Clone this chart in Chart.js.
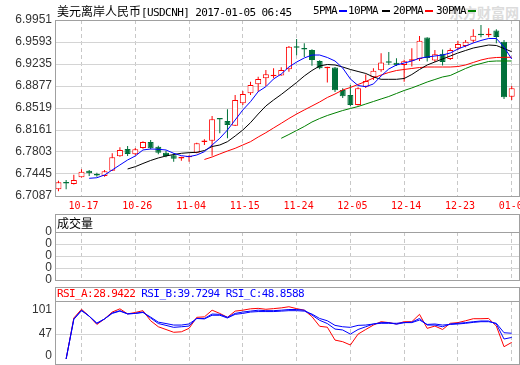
<!DOCTYPE html>
<html>
<head>
<meta charset="utf-8">
<script src="https://cdn.jsdelivr.net/npm/chart.js@4.4.0/dist/chart.umd.min.js"></script>
<style>
  body { margin: 0; background: #fff; }
  #wrap { position: relative; width: 520px; height: 365px; overflow: hidden; }
  canvas { position: absolute; left: 0; }
  .txt { position: absolute; white-space: pre; font: 11px "DejaVu Sans Mono", monospace; letter-spacing: -0.6px; line-height: 14px; color: #000; }
  .cn { font-family: "Noto Sans CJK SC", sans-serif; font-size: 12px; letter-spacing: 0; }
  .dash { position: absolute; top: 10px; width: 8px; height: 2px; }
  #wm { position: absolute; left: 449px; top: 2px; font: bold 14px "Noto Sans CJK SC", sans-serif; color: #dcdcdc; }
</style>
</head>
<body>
<div id="wrap">
  <div id="wm">东方财富网</div>
  <canvas id="main" width="520" height="214" style="top:0"></canvas>
  <canvas id="vol" width="520" height="70" style="top:214px"></canvas>
  <canvas id="rsi" width="520" height="81" style="top:284px"></canvas>

  <div class="txt" style="left:57px;top:4px"><span class="cn">美元离岸人民币</span>[USDCNH] 2017-01-05 06:45</div>
  <div class="txt" style="left:313px;top:4px">5PMA</div>
  <div class="dash" style="left:339px;background:#0000ff"></div>
  <div class="txt" style="left:348px;top:4px">10PMA</div>
  <div class="dash" style="left:382px;background:#000"></div>
  <div class="txt" style="left:393px;top:4px">20PMA</div>
  <div class="dash" style="left:425px;background:#ff0000"></div>
  <div class="txt" style="left:436px;top:4px">30PMA</div>
  <div class="dash" style="left:468px;background:#008000"></div>

  <div class="txt cn" style="left:57px;top:216px">成交量</div>
  <div class="txt" id="rsiHead" style="left:57px;top:287px"></div>
</div>

<script>
// ── data ────────────────────────────────────────────────────────
const priceTicks = [6.9951, 6.9593, 6.9235, 6.8877, 6.8519, 6.8161, 6.7803, 6.7445, 6.7087];
const dateIdx    = [3, 10, 17, 24, 31, 38, 45, 52, 59];
const dateLabels = ['10-17', '10-26', '11-04', '11-15', '11-24', '12-05', '12-14', '12-23', '01-05'];

const open = [
  6.7196, 6.7306, 6.7282, 6.7391, 6.7499, 6.7429, 6.7412, 6.7499, 6.7733, 6.7852,
  6.7766, 6.7868, 6.7966, 6.7889, 6.7792, 6.7749, 6.7697, 6.7717, 6.7792, 6.7966,
  6.7987, 6.8340, 6.8308, 6.8231, 6.8595, 6.8758, 6.8905, 6.9002, 6.9035, 6.9048,
  6.9149, 6.9507, 6.9479, 6.9463, 6.9284, 6.9165, 6.9178, 6.8812, 6.8731, 6.8568,
  6.8866, 6.9018, 6.9132, 6.9263, 6.9255, 6.9219, 6.9287, 6.9316, 6.9666, 6.9292,
  6.9401, 6.9316, 6.9491, 6.9528, 6.9614, 6.9712, 6.9702, 6.9780, 6.9598, 6.8703];
const high = [
  6.7336, 6.7347, 6.7434, 6.7521, 6.7510, 6.7466, 6.7510, 6.7782, 6.7879, 6.7900,
  6.7868, 6.7977, 6.7998, 6.7906, 6.7825, 6.7782, 6.7727, 6.7749, 6.7954, 6.8009,
  6.8389, 6.8352, 6.8498, 6.8731, 6.8796, 6.8947, 6.9028, 6.9137, 6.9165, 6.9181,
  6.9528, 6.9642, 6.9572, 6.9474, 6.9295, 6.9191, 6.9186, 6.8840, 6.8893, 6.8856,
  6.9064, 6.9165, 6.9409, 6.9430, 6.9328, 6.9305, 6.9491, 6.9691, 6.9669, 6.9463,
  6.9471, 6.9491, 6.9614, 6.9626, 6.9800, 6.9870, 6.9816, 6.9800, 6.9626, 6.8877];
const low = [
  6.7164, 6.7196, 6.7274, 6.7388, 6.7412, 6.7401, 6.7401, 6.7494, 6.7727, 6.7738,
  6.7749, 6.7857, 6.7847, 6.7766, 6.7717, 6.7645, 6.7662, 6.7645, 6.7782, 6.7917,
  6.7743, 6.8107, 6.8026, 6.8226, 6.8568, 6.8731, 6.8785, 6.8877, 6.9002, 6.9045,
  6.9110, 6.9377, 6.9349, 6.9207, 6.9149, 6.8934, 6.8780, 6.8682, 6.8551, 6.8560,
  6.8845, 6.8975, 6.9110, 6.9219, 6.9203, 6.8947, 6.9194, 6.9284, 6.9276, 6.9268,
  6.9211, 6.9300, 6.9463, 6.9507, 6.9581, 6.9670, 6.9670, 6.9572, 6.8665, 6.8649];
const close = [
  6.7310, 6.7290, 6.7347, 6.7482, 6.7456, 6.7421, 6.7489, 6.7717, 6.7836, 6.7771,
  6.7847, 6.7966, 6.7863, 6.7792, 6.7738, 6.7694, 6.7706, 6.7738, 6.7944, 6.7974,
  6.8335, 6.8332, 6.8243, 6.8649, 6.8747, 6.8893, 6.8991, 6.9067, 6.9040, 6.9137,
  6.9517, 6.9499, 6.9471, 6.9300, 6.9165, 6.9170, 6.8807, 6.8710, 6.8568, 6.8840,
  6.8958, 6.9126, 6.9260, 6.9255, 6.9214, 6.9279, 6.9292, 6.9614, 6.9333, 6.9393,
  6.9268, 6.9463, 6.9561, 6.9598, 6.9696, 6.9702, 6.9712, 6.9674, 6.8693, 6.8840];

// moving averages, each starts at its own candle index
const ma5Start = 4;
const ma5 = [
  6.7375, 6.7384, 6.7429, 6.7510, 6.7592, 6.7673, 6.7738, 6.7836, 6.7852, 6.7847,
  6.7836, 6.7782, 6.7743, 6.7727, 6.7754, 6.7808, 6.7917, 6.8026, 6.8161, 6.8324,
  6.8487, 6.8622, 6.8785, 6.8866, 6.8991, 6.9072, 6.9186, 6.9267, 6.9333, 6.9381,
  6.9381, 6.9341, 6.9284, 6.9170, 6.8991, 6.8885, 6.8866, 6.8910, 6.9040, 6.9154,
  6.9219, 6.9251, 6.9284, 6.9328, 6.9349, 6.9365, 6.9381, 6.9414, 6.9479, 6.9528,
  6.9577, 6.9618, 6.9650, 6.9650, 6.9512, 6.9316];
const ma10Start = 9;
const ma10 = [
  6.7527, 6.7564, 6.7616, 6.7665, 6.7706, 6.7738, 6.7762, 6.7782, 6.7792, 6.7798,
  6.7827, 6.7892, 6.7917, 6.7971, 6.8063, 6.8161, 6.8280, 6.8421, 6.8552, 6.8649,
  6.8739, 6.8836, 6.8934, 6.9040, 6.9129, 6.9203, 6.9227, 6.9219, 6.9186, 6.9146,
  6.9113, 6.9081, 6.9024, 6.8986, 6.8986, 6.8986, 6.8999, 6.9064, 6.9146, 6.9219,
  6.9268, 6.9317, 6.9365, 6.9414, 6.9455, 6.9495, 6.9520, 6.9544, 6.9536, 6.9487,
  6.9435];
const ma20Start = 19;
const ma20 = [
  6.7681, 6.7722, 6.7771, 6.7819, 6.7863, 6.7917, 6.7971, 6.8047, 6.8117, 6.8194,
  6.8270, 6.8348, 6.8421, 6.8487, 6.8552, 6.8617, 6.8690, 6.8747, 6.8812, 6.8853,
  6.8902, 6.8950, 6.9007, 6.9056, 6.9097, 6.9129, 6.9146, 6.9162, 6.9178, 6.9186,
  6.9186, 6.9186, 6.9186, 6.9194, 6.9219, 6.9260, 6.9300, 6.9328, 6.9341, 6.9344,
  6.9344];
const ma30Start = 29;
const ma30 = [
  6.8026, 6.8088, 6.8153, 6.8218, 6.8291, 6.8348, 6.8397, 6.8438, 6.8478, 6.8511,
  6.8543, 6.8584, 6.8625, 6.8666, 6.8706, 6.8755, 6.8804, 6.8845, 6.8893, 6.8942,
  6.8983, 6.9024, 6.9048, 6.9105, 6.9162, 6.9211, 6.9243, 6.9276, 6.9284, 6.9284,
  6.9284];

// volume panel is empty in the source
const volume = [];
const volTicks = [0, 1, 2, 3, 4];
const volTickLabels = ['0', '0', '0', '0', '0'];

// RSI, starting at candle 1
const rsiStart = 1;
const rsiTicks = [0, 47, 101];
const rsiA = [
  -7, 82, 101, 86, 68, 80, 95, 102, 91, 94,
  98, 76, 63, 57, 51, 52, 59.5, 83.5, 84.5, 99,
  92, 83.5, 97, 99, 102, 103, 101, 102.4, 104, 106.5,
  102.4, 99, 85, 64, 62, 34, 30.5, 23.3, 47, 57,
  66.7, 74, 72, 69, 74, 74, 90, 59.5, 64.5, 57,
  70.5, 72, 76, 80.5, 80.5, 81, 64.5, 19.6, 28.9422];
const rsiB = [
  -7, 80, 99, 86, 70, 80, 93, 98, 91, 92,
  95, 82, 70, 66, 61.7, 63, 64.5, 81, 81, 90.6,
  90, 83.5, 92, 95, 97, 99, 98, 98, 99, 100.5,
  100.5, 99, 88.5, 77, 70, 58, 56, 47, 57, 63,
  69, 72, 72, 68.5, 72, 73, 81, 66.7, 66.7, 63,
  69, 70.5, 72, 74, 75.5, 75.5, 69, 36.3, 39.7294];
const rsiC = [
  -7, 79, 98, 86, 71, 80, 92, 97, 91, 92,
  94, 84, 73, 70, 66.7, 66.7, 69, 81, 80, 88,
  88, 82, 90, 92, 95, 96, 96, 96, 97, 98,
  98, 97, 90.6, 81, 76, 66, 63, 61.7, 66, 66.7,
  69, 70.5, 70.5, 70.5, 72, 72, 77.6, 68, 69, 66.7,
  68, 69, 70.5, 72.5, 74, 74, 70.5, 50, 48.8588];

// ── styling helpers ─────────────────────────────────────────────
const RED = '#ff0000', GRN = '#00703a', FRAME = '#a0a0a0';
const tickFont = { family: "'Liberation Sans', Arial, sans-serif", size: 12 };
const isUp = i => close[i] >= open[i];
const isDoji = i => Math.abs(close[i] - open[i]) < 0.0012;
const series = (arr, start) => arr.map((v, k) => ({ x: k + start, y: v }));

const frame = {
  id: 'frame',
  afterDraw(chart, args, opts) {
    const { ctx, chartArea: a } = chart;
    const top = opts.boxTop != null ? opts.boxTop : a.top;
    ctx.save();
    ctx.strokeStyle = FRAME;
    ctx.lineWidth = 1;
    ctx.strokeRect(a.left + 0.5, top + 0.5, a.right - a.left, a.bottom - top);
    if (opts.boxTop != null) {
      ctx.beginPath();
      ctx.moveTo(a.left, a.top + 0.5);
      ctx.lineTo(a.right + 1, a.top + 0.5);
      ctx.stroke();
    }
    ctx.restore();
  }
};

const xAxis = showTicks => ({
  type: 'linear', min: -0.45, max: 59.95, offset: false,
  afterBuildTicks: s => { s.ticks = dateIdx.map(v => ({ value: v })); },
  afterFit: s => { s.height = showTicks ? 18 : 0; s.paddingLeft = 0; s.paddingRight = 0; },
  grid: { color: '#c8c8c8', drawTicks: false, offset: false },
  border: { display: false, dash: [4, 3] },
  ticks: {
    display: showTicks, autoSkip: false, maxRotation: 0, padding: 4, labelOffset: 2, color: RED,
    font: { family: "'DejaVu Sans Mono', monospace", size: 10 },
    callback: (v, i) => dateLabels[i],
  },
});

const yAxis = (min, max, ticks, label, gridColor) => ({
  min, max,
  afterBuildTicks: s => { s.ticks = ticks.map(v => ({ value: v })); },
  afterFit: s => { s.width = 55; s.paddingTop = 0; s.paddingBottom = 0; },
  grid: { color: gridColor, drawTicks: false },
  border: { display: false },
  ticks: { color: '#333', font: tickFont, padding: 3, autoSkip: false, callback: label },
});

const common = {
  responsive: false, animation: false, devicePixelRatio: 1, events: [],
};

// ── ① price panel: candles + moving averages ────────────────────
const idx = open.map((_, i) => i);
const maLine = (arr, start, color) => ({
  type: 'line', data: series(arr, start), borderColor: color, borderWidth: 1,
  pointRadius: 0, tension: 0, fill: false,
});

new Chart(document.getElementById('main'), {
  type: 'bar',
  data: {
    datasets: [
      maLine(ma5, ma5Start, '#0000ff'),
      maLine(ma10, ma10Start, '#000000'),
      maLine(ma20, ma20Start, RED),
      maLine(ma30, ma30Start, '#008000'),
      {
        // bodies
        data: idx.map(i => ({ x: i, y: [open[i], close[i]] })),
        backgroundColor: idx.map(i => isUp(i) ? (isDoji(i) ? RED : '#ffffff') : GRN),
        borderColor: idx.map(i => isUp(i) ? RED : GRN),
        borderWidth: 1, borderSkipped: false, barThickness: 6,
        minBarLength: 1.5, grouped: false, inflateAmount: 0,
      },
      {
        // wicks
        data: idx.map(i => ({ x: i, y: [low[i], high[i]] })),
        backgroundColor: idx.map(i => isUp(i) ? RED : GRN),
        borderWidth: 0, barThickness: 1, grouped: false, inflateAmount: 0,
      },
    ],
  },
  options: {
    ...common,
    layout: { padding: { top: 20, right: 1, left: 0, bottom: 0 } },
    scales: {
      x: xAxis(true),
      y: yAxis(priceTicks[priceTicks.length - 1], priceTicks[0], priceTicks, v => v.toFixed(4), '#d4d4d4'),
    },
    plugins: { legend: { display: false }, tooltip: { enabled: false }, frame: {} },
  },
  plugins: [frame],
});

// ── ② volume panel (no bars in the source) ──────────────────────
new Chart(document.getElementById('vol'), {
  type: 'bar',
  data: { datasets: [{ data: volume, backgroundColor: RED }] },
  options: {
    ...common,
    layout: { padding: { top: 18, right: 1, left: 0, bottom: 4 } },
    scales: {
      x: xAxis(false),
      y: yAxis(volTicks[0], volTicks[volTicks.length - 1], volTicks, (v, i) => volTickLabels[i], '#d4d4d4'),
    },
    plugins: { legend: { display: false }, tooltip: { enabled: false }, frame: { boxTop: 0 } },
  },
  plugins: [frame],
});

// ── ③ RSI panel ─────────────────────────────────────────────────
const rsiLine = (arr, color) => ({
  data: series(arr, rsiStart), borderColor: color, borderWidth: 1,
  pointRadius: 0, tension: 0, fill: false,
});

new Chart(document.getElementById('rsi'), {
  type: 'line',
  data: { datasets: [rsiLine(rsiC, '#0000ff'), rsiLine(rsiB, '#0000ff'), rsiLine(rsiA, RED)] },
  options: {
    ...common,
    layout: { padding: { top: 17, right: 1, left: 0, bottom: 1 } },
    scales: {
      x: xAxis(false),
      y: yAxis(-18, 119, rsiTicks, v => String(v),
        c => (c.tick && c.tick.value === 47) ? '#d4d4d4' : 'rgba(0,0,0,0)'),
    },
    plugins: { legend: { display: false }, tooltip: { enabled: false }, frame: { boxTop: 3 } },
  },
  plugins: [frame],
});

const last = a => a[a.length - 1].toFixed(4);
document.getElementById('rsiHead').innerHTML =
  `<span style="color:${RED}">RSI_A:${last(rsiA)}</span> ` +
  `<span style="color:#0000ff">RSI_B:${last(rsiB)}</span> ` +
  `<span style="color:#0000ff">RSI_C:${last(rsiC)}</span>`;
</script>
</body>
</html>
